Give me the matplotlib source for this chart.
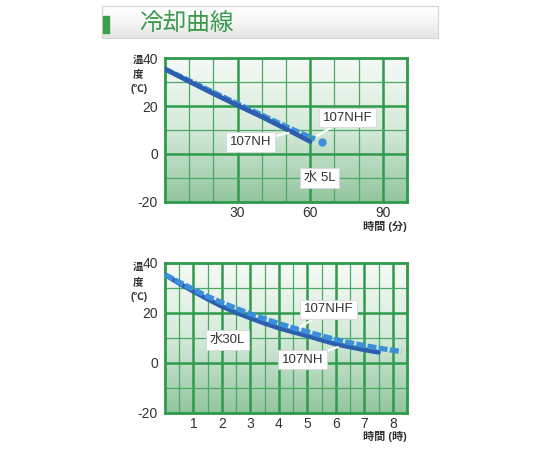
"""Cooling curves (冷却曲線) for 107NH / 107NHF, water 5L and 30L."""
import matplotlib.pyplot as plt
import numpy as np
from matplotlib.colors import LinearSegmentedColormap

plt.rcParams["font.family"] = ["Liberation Sans", "Noto Sans CJK JP", "DejaVu Sans"]
plt.rcParams["axes.unicode_minus"] = False

GRID = "#2f9a4b"
GRID_MINOR = "#4aa964"
INK = "#333333"
NH_COLOR = "#2d5fae"
NHF_COLOR = "#3b8fdc"
TITLE_GREEN = "#3a9a4e"

# 水 5L (minutes)
T5_NH = [0, 10, 20, 30, 40, 50, 60]
Y5_NH = [35.5, 30.3, 25.2, 20.3, 15.5, 10.4, 5.2]
T5_NHF = [0, 10, 20, 30, 40, 50, 60, 62]
Y5_NHF = [35.5, 30.7, 25.8, 21.0, 16.3, 11.5, 7.0, 6.3]
T5_NHF_END = [65]
Y5_NHF_END = [5.0]

# 水30L (hours)
T30_NH = [0, 0.5, 1, 1.5, 2, 2.5, 3, 3.5, 4, 4.5, 5, 5.5, 6, 6.5, 7, 7.5]
Y30_NH = [35.3, 31.8, 28.6, 25.5, 22.6, 20.1, 17.9, 15.8, 13.9, 12.3,
          10.8, 9.1, 7.5, 6.3, 5.2, 4.2]
T30_NHF = [0, 0.5, 1, 1.5, 2, 2.5, 3, 3.5, 4, 4.5, 5, 5.5, 6, 6.5, 7, 7.5, 8, 8.3]
Y30_NHF = [35.3, 32.3, 29.4, 26.6, 24.1, 21.8, 19.6, 17.6, 15.7, 14.0,
           12.4, 10.8, 9.3, 8.0, 6.9, 5.9, 5.0, 4.5]

YTICKS = [-20, 0, 20, 40]
XTICKS_5 = [30, 60, 90]
XTICKS_30 = [1, 2, 3, 4, 5, 6, 7, 8]

BOX = dict(boxstyle="square,pad=0.28", fc="white", ec="#d8d8d8", lw=0.6)


def label_box(ax, text, xy, xytext):
    ax.annotate(text, xy=xy, xytext=xytext, ha="center", va="center",
                fontsize=9.5, color=INK, zorder=6, bbox=BOX,
                arrowprops=dict(arrowstyle="-", color="white", lw=1.6,
                                shrinkA=0, shrinkB=0))


def plain_box(ax, text, xy):
    ax.text(xy[0], xy[1], text, ha="center", va="center", fontsize=9.5,
            color=INK, zorder=6, bbox=BOX)


def setup_axes(ax, xmax, minor_step, major_step, xticks):
    grad = np.linspace(0, 1, 256).reshape(-1, 1)
    cmap = LinearSegmentedColormap.from_list("bg", ["#f6faf6", "#d5eada", "#92c59e"])
    ax.imshow(grad, extent=[0, xmax, -20, 40], aspect="auto", cmap=cmap,
              origin="upper", zorder=0)
    ax.set_xlim(0, xmax)
    ax.set_ylim(-20, 40)
    for x in np.arange(minor_step, xmax, minor_step):
        major = abs(x / major_step - round(x / major_step)) < 1e-6
        ax.axvline(x, color=GRID if major else GRID_MINOR, lw=1.8 if major else 0.9, zorder=1)
    for y in [30, 20, 10, 0, -10]:
        major = y % 20 == 0
        ax.axhline(y, color=GRID if major else GRID_MINOR, lw=1.8 if major else 0.9, zorder=1)
    for s in ax.spines.values():
        s.set_color(GRID)
        s.set_linewidth(2)
    ax.set_yticks(YTICKS)
    ax.set_xticks(xticks)
    ax.tick_params(length=0, labelsize=10, labelcolor=INK)
    ax.tick_params(axis="y", pad=5)
    ax.tick_params(axis="x", pad=3)


fig = plt.figure(figsize=(5.4, 4.5), dpi=100, facecolor="white")

# title bar
tax = fig.add_axes([101.7 / 540, 1 - 38 / 450, 336 / 540, 32 / 450])
tg = np.linspace(0, 1, 64).reshape(-1, 1)
tax.imshow(tg, extent=[0, 1, 0, 1], aspect="auto",
           cmap=LinearSegmentedColormap.from_list("t", ["#ffffff", "#f6f6f6", "#e4e4e4"]),
           origin="upper")
tax.set_xlim(0, 1)
tax.set_ylim(0, 1)
tax.set_xticks([])
tax.set_yticks([])
for s in tax.spines.values():
    s.set_color("#d4d4d4")
    s.set_linewidth(0.8)
fig.patches.append(plt.Rectangle((103 / 540, 1 - 33 / 450), 6 / 540, 17 / 450,
                                 transform=fig.transFigure, color="#3aa04c", zorder=5))
fig.text(139 / 540, 1 - 23 / 450, "冷却曲線", fontsize=17, color=TITLE_GREEN,
         va="center", ha="left", family=["Noto Sans CJK JP", "DejaVu Sans"])

# 水 5L
ax1 = fig.add_axes([165 / 540, 1 - 201.7 / 450, 242 / 540, 143.4 / 450])
setup_axes(ax1, 100, 10, 30, XTICKS_5)
ax1.plot(T5_NHF, Y5_NHF, color=NHF_COLOR, lw=3.6, dashes=(1.7, 0.45),
         solid_capstyle="butt", zorder=3)
ax1.plot(T5_NHF_END, Y5_NHF_END, "o", color=NHF_COLOR, ms=5, zorder=3)
ax1.plot(T5_NH, Y5_NH, color=NH_COLOR, lw=3.4, solid_capstyle="round", zorder=4)
label_box(ax1, "107NHF", (62.8, 7.5), (75.4, 15.2))
label_box(ax1, "107NH", (51.0, 8.8), (35.5, 5.0))
plain_box(ax1, "水 5L", (64, -10.1))

# 水30L
ax2 = fig.add_axes([165 / 540, 1 - 412.7 / 450, 242 / 540, 149.7 / 450])
setup_axes(ax2, 8.5, 0.5, 1, XTICKS_30)
ax2.plot(T30_NH, Y30_NH, color=NH_COLOR, lw=3.4, solid_capstyle="round", zorder=3)
ax2.plot(T30_NHF, Y30_NHF, color=NHF_COLOR, lw=3.8, dashes=(1.7, 0.45),
         solid_capstyle="butt", zorder=4)
label_box(ax2, "107NHF", (4.74, 14.3), (5.75, 21.4))
label_box(ax2, "107NH", (6.07, 6.3), (4.84, 1.3))
plain_box(ax2, "水30L", (2.2, 9.1))

# axis captions
cap = dict(fontsize=7.5, color=INK, ha="center", va="center", fontweight="bold")
for top in (59.5, 267):
    fig.text(137.5 / 540, 1 - top / 450, "温", **cap)
    fig.text(137.5 / 540, 1 - (top + 15) / 450, "度", **cap)
    fig.text(139 / 540, 1 - (top + 29.5) / 450, "(℃)", **cap)
fig.text(407 / 540, 1 - 226 / 450, "時間 (分)", fontsize=8, color=INK, ha="right",
         va="center", fontweight="bold")
fig.text(407 / 540, 1 - 436 / 450, "時間 (時)", fontsize=8, color=INK, ha="right",
         va="center", fontweight="bold")

fig.savefig("out.png", dpi=100, facecolor="white")
